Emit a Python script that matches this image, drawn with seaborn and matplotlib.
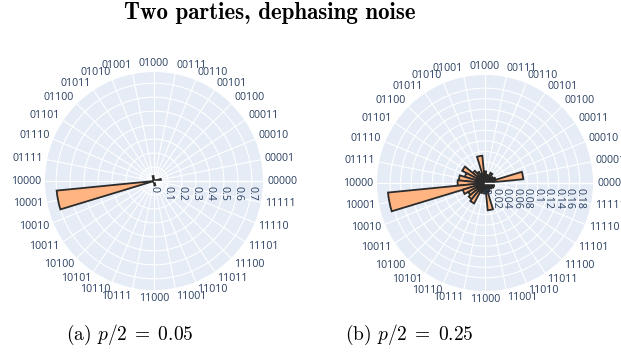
import numpy as np
import pandas as pd
import matplotlib
matplotlib.use("Agg")
import matplotlib.pyplot as plt
from matplotlib.transforms import offset_copy
import seaborn as sns

# 5-bit outcomes, counter-clockwise from 0 degrees
outcomes = [format(i, "05b") for i in range(32)]

# probabilities, p/2 = 0.05
probs_a = [0.006, 0.050, 0.005, 0.005, 0.005, 0.006, 0.005, 0.005,
           0.006, 0.036, 0.005, 0.005, 0.005, 0.006, 0.005, 0.006,
           0.008, 0.700, 0.006, 0.005, 0.005, 0.006, 0.005, 0.005,
           0.006, 0.032, 0.005, 0.005, 0.005, 0.005, 0.005, 0.005]

# probabilities, p/2 = 0.25
probs_b = [0.015, 0.073, 0.021, 0.018, 0.014, 0.022, 0.012, 0.016,
           0.022, 0.052, 0.018, 0.024, 0.030, 0.049, 0.040, 0.050,
           0.052, 0.185, 0.044, 0.036, 0.040, 0.044, 0.020, 0.016,
           0.020, 0.052, 0.018, 0.014, 0.013, 0.016, 0.018, 0.017]

rticks_a = [0, 0.1, 0.2, 0.3, 0.4, 0.5, 0.6, 0.7]
rticks_b = [0, 0.02, 0.04, 0.06, 0.08, 0.1, 0.12, 0.14, 0.16, 0.18]

plt.rcParams["mathtext.fontset"] = "cm"

bg = "#E5ECF6"
txt = "#2a3f5f"
bar_color = "#FFB482"

fig = plt.figure(figsize=(6.21, 3.52), dpi=100)


def polar_panel(rect, probs, rticks, rmax):
    ax = fig.add_axes(rect, projection="polar")
    theta = np.arange(len(outcomes)) * 2 * np.pi / len(outcomes)
    df = pd.DataFrame({"theta": theta, "prob": probs})
    sns.barplot(data=df, x="theta", y="prob", native_scale=True, width=1,
                color=bar_color, saturation=1, edgecolor="#2b2b2b",
                linewidth=1.3, errorbar=None, orient="x", ax=ax)
    ax.set_xlabel("")
    ax.set_ylabel("")
    ax.set_theta_zero_location("E")
    ax.set_ylim(0, rmax)
    ax.set_facecolor(bg)
    ax.spines["polar"].set_visible(False)
    ax.set_axisbelow(True)
    ax.set_xticks(theta)
    ax.set_xticklabels([])
    ax.set_yticks(rticks[1:])
    ax.set_yticklabels([])
    ax.tick_params(length=0)
    ax.grid(True, color="white", linewidth=0.8)
    # radial axis line drawn over the bars
    ax.plot([0, 0], [0, rmax], color="white", linewidth=1.0, zorder=3)

    # angular labels outside the circle
    pad = 3
    for ang, lab in zip(theta, outcomes):
        c, s = np.cos(ang), np.sin(ang)
        ha = "center" if abs(c) < 1e-6 else ("left" if c > 0 else "right")
        tr = offset_copy(ax.transData, fig=fig, x=pad * c, y=s * (pad + 3.2), units="points")
        ax.text(ang, rmax, lab, ha=ha, va="center", transform=tr,
                fontsize=7.7, color=txt, family="Open Sans")

    # radial tick labels under the 0-degree axis
    tr = offset_copy(ax.transData, fig=fig, x=0, y=-3.5, units="points")
    for v in rticks:
        ax.text(0, v, f"{v:g}", rotation=-90, ha="center", va="top", transform=tr,
                fontsize=7.7, color=txt, family="Open Sans", zorder=4)
    return ax


polar_panel([45 / 621, 62 / 352, 218 / 621, 218 / 352], probs_a, rticks_a, 0.78)
polar_panel([377 / 621, 61 / 352, 216 / 621, 216 / 352], probs_b, rticks_b, 0.205)

fig.text(270 / 621, 1 - 12.5 / 352, "Two parties, dephasing noise", ha="center", va="center",
         family="cmb10", fontsize=16.5)
fig.text(130 / 621, 1 - 335 / 352, r"(a) $p/2 \;=\; 0.05$", ha="center", va="center",
         family="cmr10", fontsize=14)
fig.text(409 / 621, 1 - 335 / 352, r"(b) $p/2 \;=\; 0.25$", ha="center", va="center",
         family="cmr10", fontsize=14)

fig.savefig("out.png", dpi=100, facecolor="white")
